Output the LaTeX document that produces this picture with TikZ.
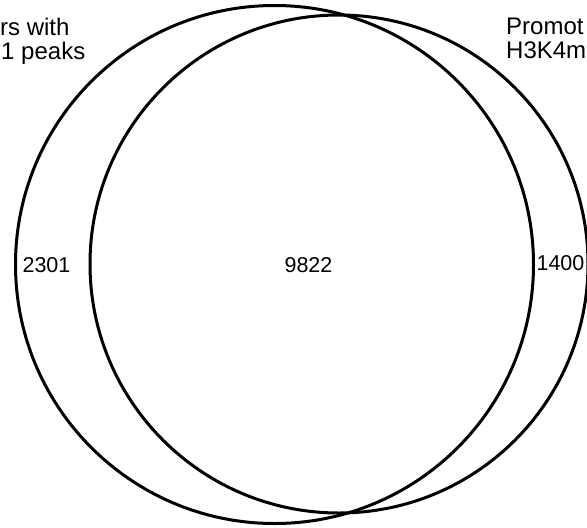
\documentclass[tikz,border=0pt]{standalone}
\usepackage{fontspec}
\setmainfont{Liberation Sans}
\begin{document}
\begin{tikzpicture}[x=1pt,y=-1pt,
  venn/.style={circle,draw=black,line width=3pt,inner sep=0pt,outer sep=0pt},
  lbl/.style={inner sep=0pt,font=\fontsize{21.5}{25}\selectfont},
  ttl/.style={inner sep=0pt,font=\fontsize{24}{28}\selectfont}]
\useasboundingbox (0,0) rectangle (587,528);
\node[venn,minimum size=518pt] (A) at (274.5,264.5) {};
\node[venn,minimum size=498pt] (B) at (339,264) {};
\node[lbl] (nA) at (46.5,265) {2301};
\node[lbl] (nAB) at (308.5,265) {9822};
\node[lbl] (nB) at (560.5,263) {1400};
\node[ttl,anchor=base east] (tA1) at (69.7,35.5) {rs with};
\node[ttl,anchor=base east] (tA2) at (85.5,59) {1 peaks};
\node[ttl,anchor=base west] (tB1) at (506,34.5) {Promot};
\node[ttl,anchor=base west] (tB2) at (506,58.5) {H3K4m};
\end{tikzpicture}
\end{document}
